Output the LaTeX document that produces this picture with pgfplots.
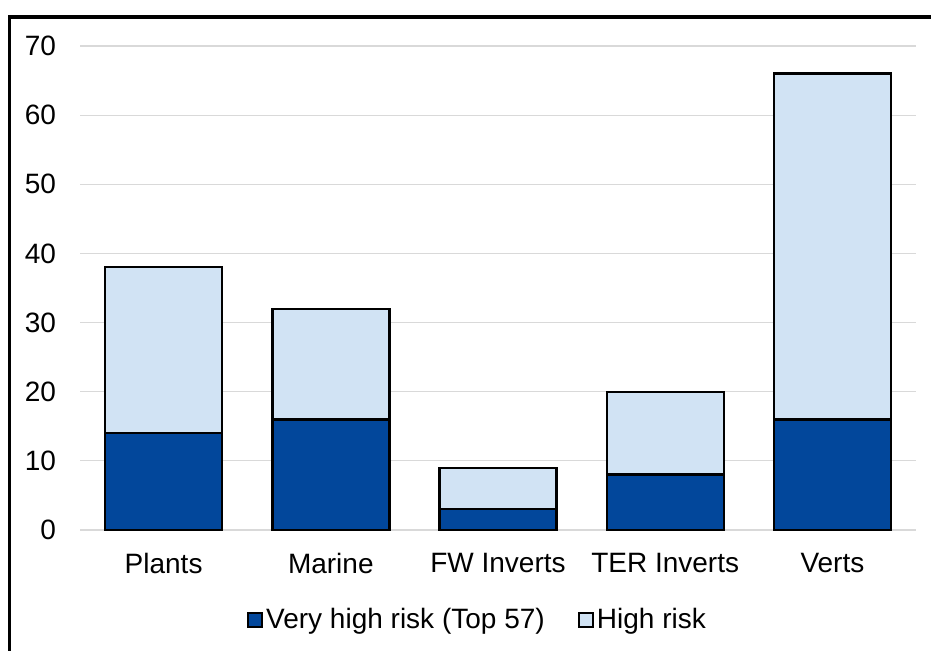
\documentclass[border=0pt]{standalone}
\usepackage{fontspec}
\setmainfont{Liberation Sans}
\usepackage{pgfplots}
\pgfplotsset{compat=1.18}

\definecolor{vhigh}{RGB}{2,71,155}
\definecolor{high}{RGB}{209,227,244}
\definecolor{gridgray}{RGB}{217,217,217}

\begin{document}
\begin{tikzpicture}[font=\fontsize{14}{16}\selectfont]
\useasboundingbox (0,0) rectangle (465.5pt,325pt);
% outer frame (top and left edges)
\draw[line width=1.6pt] (4.6pt,-1pt) -- (4.6pt,316.5pt) -- (467pt,316.5pt);
\begin{axis}[
  at={(40pt,60pt)}, anchor=south west,
  scale only axis,
  width=418pt, height=242pt,
  ymin=0, ymax=70,
  xmin=-0.5, xmax=4.5,
  ytick={0,10,...,70},
  xtick={0,1,2,3,4},
  xticklabels={Plants,Marine,FW Inverts,TER Inverts,Verts},
  ymajorgrids,
  grid style={gridgray, line width=0.6pt},
  axis line style={draw=none},
  major tick length=0pt,
  /pgf/number format/assume math mode=true,
  yticklabel style={anchor=east, xshift=-8.5pt},
  xticklabel style={anchor=north, yshift=-8pt},
  ybar stacked,
  bar width=58.5pt,
  legend columns=2,
  legend style={
    at={(0.476,-0.186)}, anchor=center,
    draw=none, fill=none,
    inner sep=0pt,
    /tikz/every even column/.append style={column sep=15pt},
    nodes={inner xsep=1.5pt},
  },
  legend image code/.code={
    \draw[#1, line width=0.9pt] (0pt,-3.6pt) rectangle (7.2pt,3.6pt);
  },
  legend cell align=left,
]
\addplot[fill=vhigh, draw=black, line width=1.2pt]
  coordinates {(0,14) (1,16) (2,3) (3,8) (4,16)};
\addlegendentry{Very high risk (Top 57)}
\addplot[fill=high, draw=black, line width=1.2pt]
  coordinates {(0,24) (1,16) (2,6) (3,12) (4,50)};
\addlegendentry{High risk}
\end{axis}
\end{tikzpicture}
\end{document}
